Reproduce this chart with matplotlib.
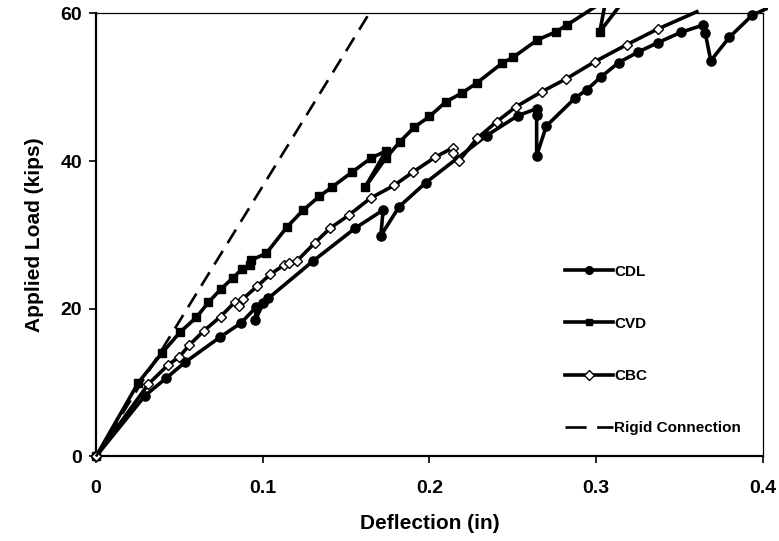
import matplotlib
matplotlib.use("Agg")
import matplotlib.pyplot as plt
from matplotlib.patches import Rectangle
from matplotlib.lines import Line2D
import numpy as np

plt.rcParams['font.family'] = ['Liberation Sans', 'DejaVu Sans']
plt.rcParams['font.weight'] = 'bold'

# Load-deflection test records (deflection in inches, load in kips)
cdl_defl = [0.0, 0.0294, 0.0420, 0.0534, 0.0746, 0.0870, 0.0960, 0.0957, 0.1004,
            0.1034, 0.1304, 0.1554, 0.1723, 0.1709, 0.1819, 0.1980, 0.2344, 0.2532,
            0.2644, 0.2644, 0.2644, 0.2702, 0.2873, 0.2945, 0.3031, 0.3137, 0.3253,
            0.3371, 0.3509, 0.3643, 0.3656, 0.3689, 0.3800, 0.3939, 0.4100]
cdl_load = [0.0, 8.23, 10.59, 12.75, 16.18, 18.07, 20.2, 18.48, 20.78,
            21.42, 26.49, 30.89, 33.37, 29.89, 33.82, 37.09, 43.45, 46.16,
            47.08, 46.23, 40.72, 44.74, 48.49, 49.66, 51.41, 53.34, 54.76,
            56.02, 57.42, 58.41, 57.29, 53.58, 56.75, 59.77, 61.4]

cvd_defl = [0.0, 0.0254, 0.0394, 0.0507, 0.0602, 0.0674, 0.0750, 0.0824, 0.0876,
            0.0924, 0.0933, 0.1022, 0.1146, 0.1242, 0.1339, 0.1414, 0.1537, 0.1651,
            0.1740, 0.1614, 0.1740, 0.1824, 0.1911, 0.2001, 0.2100, 0.2199, 0.2287,
            0.2436, 0.2503, 0.2647, 0.2761, 0.2825, 0.3059, 0.3023, 0.3155]
cvd_load = [0.0, 9.99, 13.97, 16.89, 18.82, 20.85, 22.68, 24.23, 25.38,
            25.92, 26.6, 27.51, 31.07, 33.33, 35.2, 36.44, 38.51, 40.41,
            41.36, 36.44, 40.41, 42.62, 44.6, 46.03, 48.03, 49.25, 50.6,
            53.23, 54.04, 56.38, 57.51, 58.41, 61.8, 57.5, 61.4]

cbc_defl = [0.0, 0.0314, 0.0434, 0.0500, 0.0560, 0.0648, 0.0748, 0.0834, 0.0860,
            0.0880, 0.0969, 0.1047, 0.1131, 0.1157, 0.1208, 0.1314, 0.1404, 0.1518,
            0.1648, 0.1788, 0.1902, 0.2034, 0.2143, 0.2143, 0.2179, 0.2287, 0.2404,
            0.2520, 0.2674, 0.2819, 0.2993, 0.3184, 0.3370, 0.3605]
cbc_load = [0.0, 9.79, 12.43, 13.47, 15.09, 17.03, 18.95, 20.92, 20.44,
            21.32, 23.08, 24.68, 25.96, 26.15, 26.53, 28.94, 30.89, 32.69,
            34.99, 36.69, 38.51, 40.5, 41.83, 41.05, 40.04, 43.08, 45.32,
            47.35, 49.38, 51.1, 53.45, 55.75, 57.87, 60.21]

rigid_defl = [0.0, 0.164]
rigid_load = [0.0, 60.0]

series_labels = ['CDL', 'CVD', 'CBC', 'Rigid Connection']
x_ticks = [0, 0.1, 0.2, 0.3, 0.4]
x_tick_labels = ['0', '0.1', '0.2', '0.3', '0.4']
y_ticks = [0, 20, 40, 60]
y_tick_labels = ['0', '20', '40', '60']

fig = plt.figure(figsize=(7.79, 5.41), dpi=100)
ax = fig.add_axes([0.1232, 0.1562, 0.8558, 0.8192])
ax.set_xlim(0, 0.4)
ax.set_ylim(0, 60)

# plot-area clip that lets lines run a few pixels past the frame
clip = Rectangle((-0.03, -0.03), 1.038, 1.043, transform=ax.transAxes,
                 facecolor='none', edgecolor='none')

lw = 2.6
dash = (0, (6, 3.5))

def visible(vals):
    return [v <= 60.0 for v in vals]

l1, = ax.plot(cdl_defl, cdl_load, color='black', lw=lw, marker='o', ms=6.6,
              mfc='black', mec='black', markevery=visible(cdl_load), zorder=3)
l2, = ax.plot(cvd_defl, cvd_load, color='black', lw=lw, marker='s', ms=6.0,
              mfc='black', mec='black', markevery=visible(cvd_load), zorder=3)
l3, = ax.plot(cbc_defl, cbc_load, color='black', lw=lw, marker='D', ms=5.6,
              mfc='white', mec='black', mew=1.0, markevery=visible(cbc_load), zorder=3)
l4, = ax.plot(rigid_defl, rigid_load, color='black', lw=1.9,
              linestyle=dash, dash_capstyle='butt', zorder=3)
for ln in (l1, l2, l3, l4):
    ln.set_clip_path(clip)

ax.set_xticks(x_ticks)
ax.set_xticklabels(x_tick_labels)
ax.set_yticks(y_ticks)
ax.set_yticklabels(y_tick_labels)
ax.tick_params(axis='x', direction='out', length=5, width=1.2, pad=12, labelsize=14)
ax.tick_params(axis='y', direction='out', length=5, width=1.2, pad=5, labelsize=14)

for side in ('left', 'bottom'):
    ax.spines[side].set_linewidth(1.6)
for side in ('top', 'right'):
    ax.spines[side].set_linewidth(0.9)

ax.set_xlabel('Deflection (in)', fontsize=15, fontweight='bold')
ax.set_ylabel('Applied Load (kips)', fontsize=15, fontweight='bold')
ax.xaxis.set_label_coords(0.501, -0.130)
ax.yaxis.set_label_coords(-0.078, 0.5)

handles = [
    Line2D([], [], color='black', lw=lw, marker='o', ms=5.5),
    Line2D([], [], color='black', lw=lw, marker='s', ms=5.0),
    Line2D([], [], color='black', lw=lw, marker='D', ms=4.6, mfc='white', mec='black', mew=1.0),
    Line2D([], [], color='black', lw=1.9, linestyle=(0, (8, 4)), dash_capstyle='butt'),
]
leg = ax.legend(handles, series_labels, loc='upper left',
                bbox_to_anchor=(0.695, 0.447), frameon=False, numpoints=1,
                handlelength=3.1, handletextpad=0.1, labelspacing=2.5,
                borderaxespad=0, prop={'size': 11, 'weight': 'bold'})

fig.savefig('out.png', dpi=100, facecolor='white')
